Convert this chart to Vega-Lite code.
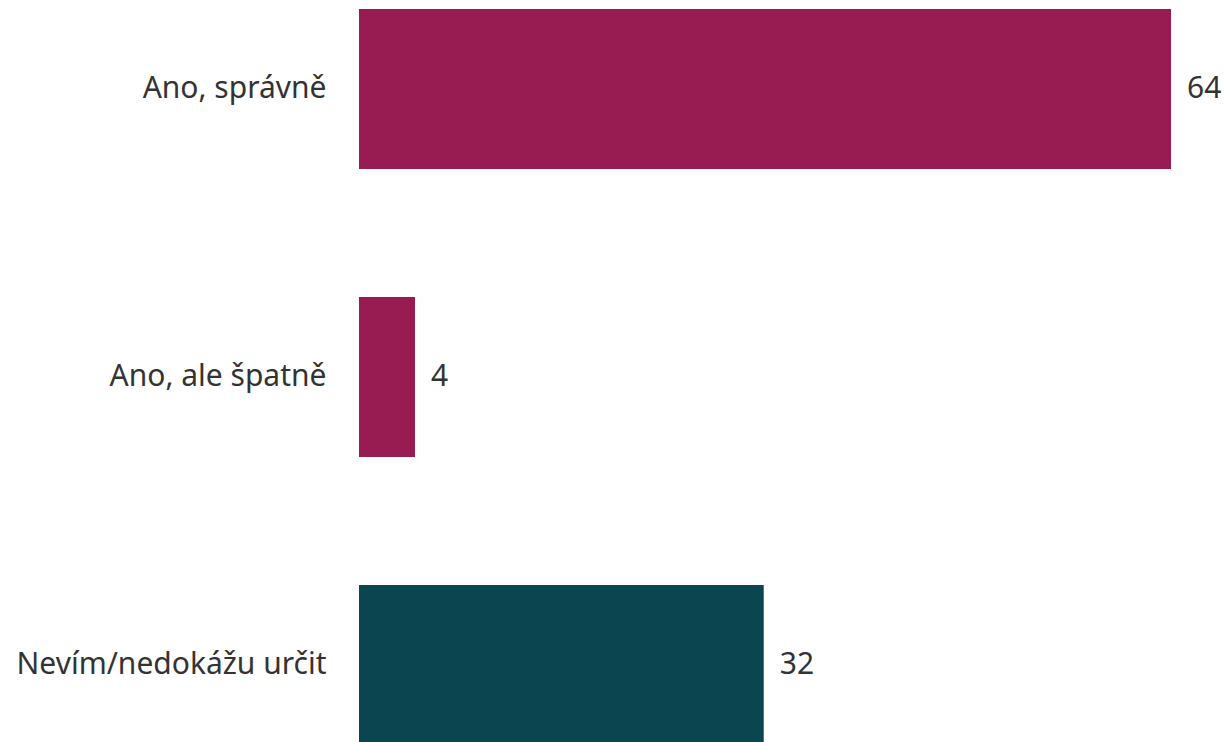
{
  "$schema": "https://vega.github.io/schema/vega-lite/v6.json",
  "autosize": {"type": "none"},
  "padding": {"left": 359, "top": 0, "right": 53, "bottom": 0},
  "width": 812,
  "height": 754,
  "background": "white",
  "config": {"view": {"stroke": null}, "font": "Noto Sans"},
  "data": {"values": [
    {"kategorie": "Ano, správně", "hodnota": 63.8, "popisek": "64", "skupina": "ano"},
    {"kategorie": "Ano, ale špatně", "hodnota": 4.4, "popisek": "4", "skupina": "ano"},
    {"kategorie": "Nevím/nedokážu určit", "hodnota": 31.8, "popisek": "32", "skupina": "nevim"}
  ]},
  "encoding": {
    "y": {
      "field": "kategorie", "type": "nominal", "sort": null,
      "scale": {"paddingInner": 0.4444, "paddingOuter": 0.03125},
      "axis": {"title": null, "domain": false, "ticks": false, "labelFontSize": 30, "labelColor": "#333333", "labelPadding": 33, "labelFont": "Noto Sans", "labelLimit": 400}
    },
    "x": {
      "field": "hodnota", "type": "quantitative",
      "scale": {"domain": [0, 63.8], "nice": false, "zero": true},
      "axis": null
    }
  },
  "layer": [
    {
      "mark": {"type": "bar"},
      "encoding": {
        "color": {"field": "skupina", "type": "nominal", "scale": {"domain": ["ano", "nevim"], "range": ["#981C52", "#0B4650"]}, "legend": null}
      }
    },
    {
      "mark": {"type": "text", "align": "left", "baseline": "middle", "dx": 16, "fontSize": 30, "color": "#333333", "font": "Noto Sans"},
      "encoding": {"text": {"field": "popisek"}}
    }
  ]
}
